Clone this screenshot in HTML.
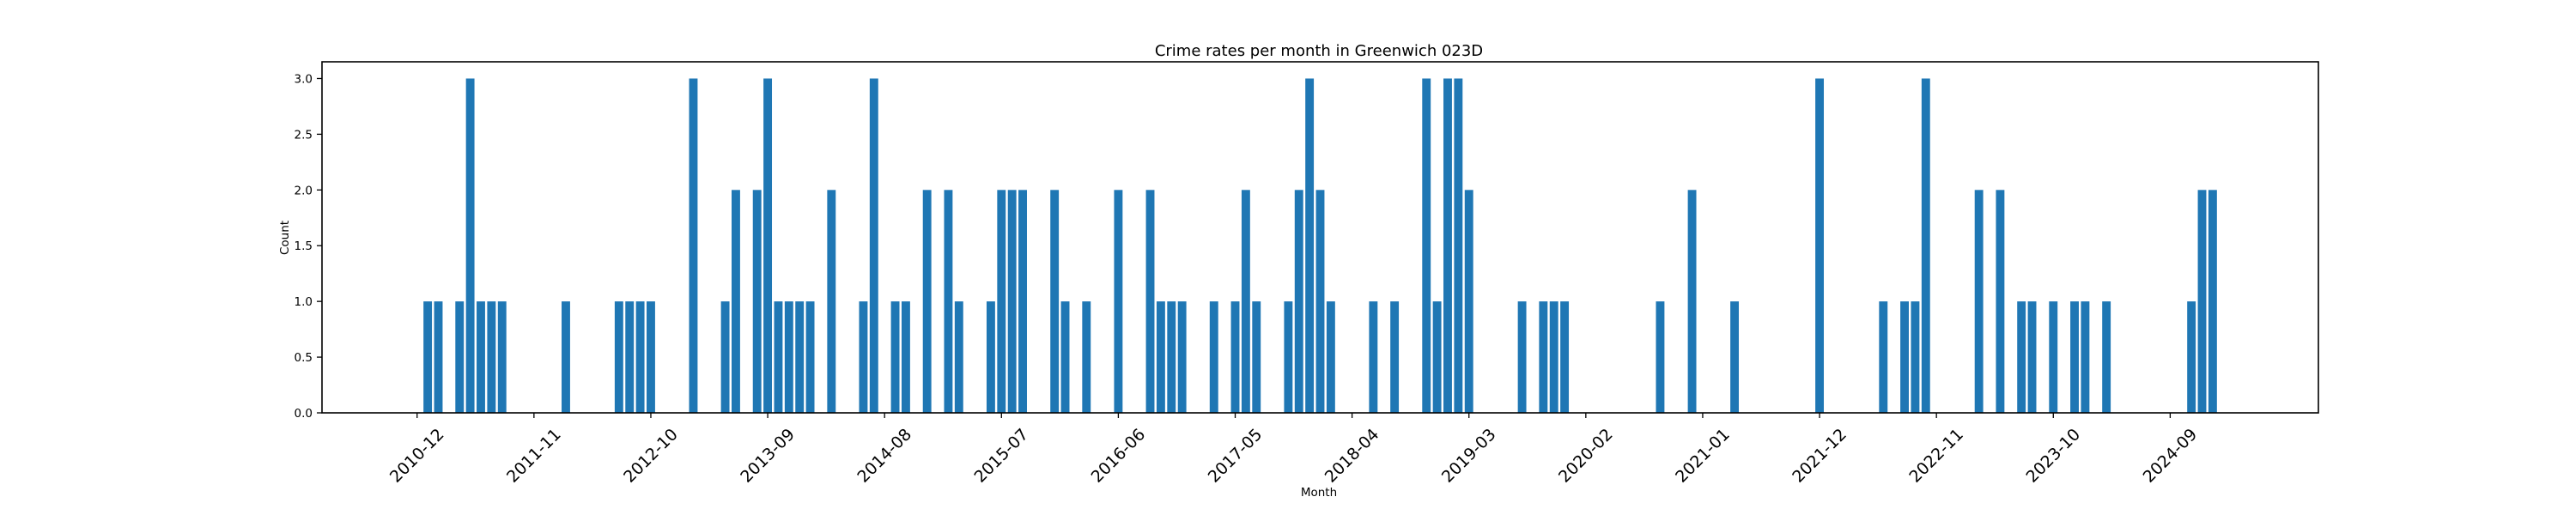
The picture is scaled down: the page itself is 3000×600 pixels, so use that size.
<!DOCTYPE html>
<html><head><meta charset="utf-8"><style>
html,body{margin:0;padding:0;background:#fff;}
svg{display:block;font-family:"DejaVu Sans","Liberation Sans",sans-serif;}
</style></head><body>
<svg id="chart" width="3000" height="600" viewBox="0 0 3000 600" xmlns="http://www.w3.org/2000/svg">
<rect width="3000" height="600" fill="#fff"/>
<text x="1536" y="65" font-size="18" text-anchor="middle" fill="#000">Crime rates per month in Greenwich 023D</text>
<text x="1536" y="578" font-size="13.5" text-anchor="middle" fill="#000">Month</text>
<text transform="translate(336,277) rotate(-90)" font-size="13.5" text-anchor="middle" fill="#000">Count</text>
<g id="bars"></g>
<g id="yaxis"></g>
<g id="xaxis"></g>
<rect x="375" y="72" width="2325" height="409" fill="none" stroke="#000" stroke-width="1.6"/>
</svg>
<script>
// month index 0 = 2010-12
const baseYear = 2010, baseMonth = 12;
const months = ["2011-01","2011-02","2011-04","2011-05","2011-06","2011-07","2011-08","2012-02","2012-07","2012-08","2012-09","2012-10","2013-02","2013-05","2013-06","2013-08","2013-09","2013-10","2013-11","2013-12","2014-01","2014-03",
"2014-06","2014-07","2014-09","2014-10","2014-12","2015-02","2015-03","2015-06","2015-07","2015-08","2015-09","2015-12","2016-01","2016-03","2016-06","2016-09","2016-10","2016-11","2016-12","2017-03","2017-05","2017-06","2017-07","2017-10","2017-11","2017-12","2018-01","2018-02",
"2018-06","2018-08","2018-11","2018-12","2019-01","2019-02","2019-03","2019-08","2019-10","2019-11","2019-12","2020-09","2020-12","2021-04","2021-12",
"2022-06","2022-08","2022-09","2022-10","2023-03","2023-05","2023-07","2023-08","2023-10","2023-12","2024-01","2024-03","2024-11","2024-12","2025-01"];
const counts = [1,1,1,3,1,1,1,1,1,1,1,1,3,1,2,2,3,1,1,1,1,2,
1,3,1,1,2,2,1,1,2,2,2,2,1,1,2,2,1,1,1,1,1,2,1,1,2,3,2,1,
1,1,3,1,3,3,2,1,1,1,1,1,2,1,3,
1,1,1,3,2,2,1,1,1,1,1,1,1,2,2];
const xTickLabels = ["2010-12","2011-11","2012-10","2013-09","2014-08","2015-07","2016-06","2017-05","2018-04","2019-03","2020-02","2021-01","2021-12","2022-11","2023-10","2024-09"];
const yTicks = [0,0.5,1,1.5,2,2.5,3];

const NS = "http://www.w3.org/2000/svg";
const PL = 375, PR = 2700, PT = 72, PB = 481;
const xMin = -8.95, xMax = 178.95, yMax = 3.15;
function monthIndex(s){const [y,m]=s.split("-").map(Number);return (y-baseYear)*12+(m-baseMonth);}
function xScale(i){return PL + (i - xMin) / (xMax - xMin) * (PR - PL);}
function yScale(v){return PB - v / yMax * (PB - PT);}
function mk(tag, attrs, parent){const e=document.createElementNS(NS,tag);for(const k in attrs)e.setAttribute(k,attrs[k]);parent.appendChild(e);return e;}

const bars = document.getElementById("bars");
const bw = 0.8 * (xScale(1) - xScale(0));
months.forEach((m, i) => {
  const cx = xScale(monthIndex(m));
  const r = mk("rect", {x: cx - bw/2, y: yScale(counts[i]), width: bw, height: yScale(0) - yScale(counts[i]), fill: "#1f77b4"}, bars);
  
  
});

const ya = document.getElementById("yaxis");
yTicks.forEach(v => {
  const y = yScale(v);
  const t = mk("line", {x1: PL - 6, x2: PL, y1: y, y2: y, stroke: "#000", "stroke-width": 1.3}, ya);
  
  
  const l = mk("text", {x: PL - 11, y: y + 5, "font-size": 13.5, "text-anchor": "end", fill: "#000"}, ya);
  l.textContent = v.toFixed(1);
  
  
});

const xa = document.getElementById("xaxis");
xTickLabels.forEach(lbl => {
  const x = xScale(monthIndex(lbl));
  const t = mk("line", {x1: x, x2: x, y1: PB, y2: PB + 6, stroke: "#000", "stroke-width": 1.3}, xa);
  
  
  const l = mk("text", {transform: "translate(" + x + ",531) rotate(-45)", "font-size": 19, "text-anchor": "middle", "dominant-baseline": "central", fill: "#000"}, xa);
  l.textContent = lbl;
  
  
});
</script>
</body></html>
